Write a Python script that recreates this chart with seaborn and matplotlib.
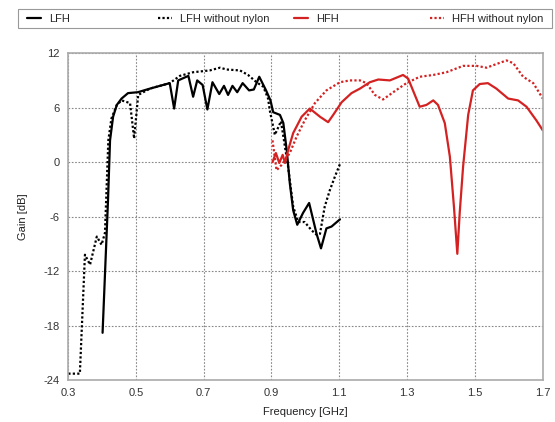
import numpy as np
import pandas as pd
import matplotlib
matplotlib.use('Agg')
import matplotlib.pyplot as plt
from matplotlib.patches import Rectangle
import seaborn as sns

# LFH (solid black)
lfh_f = [0.402, 0.418, 0.424, 0.433, 0.444, 0.458, 0.477, 0.506, 0.542, 0.571, 0.600,
         0.613, 0.625, 0.655, 0.669, 0.681, 0.697, 0.711, 0.726, 0.746, 0.760, 0.772,
         0.785, 0.799, 0.815, 0.834, 0.848, 0.864, 0.884, 0.897, 0.905, 0.925, 0.935,
         0.945, 0.954, 0.964, 0.976, 0.993, 1.011, 1.033, 1.046, 1.062, 1.077, 1.102]
lfh_g = [-18.8, -4.2, 2.4, 5.0, 6.3, 7.0, 7.6, 7.7, 8.1, 8.4, 8.7,
         5.9, 9.0, 9.5, 7.2, 9.0, 8.5, 5.8, 8.8, 7.5, 8.4, 7.4,
         8.4, 7.7, 8.7, 7.9, 8.0, 9.4, 7.9, 6.8, 5.5, 5.2, 4.3,
         1.3, -2.3, -5.3, -6.9, -5.6, -4.5, -7.9, -9.5, -7.3, -7.1, -6.3]

# LFH without nylon (dotted black)
lfhn_f = [0.301, 0.335, 0.350, 0.365, 0.385, 0.399, 0.409, 0.419, 0.428, 0.444, 0.458,
          0.483, 0.495, 0.507, 0.542, 0.571, 0.600, 0.630, 0.669, 0.718, 0.748, 0.768,
          0.807, 0.831, 0.856, 0.876, 0.890, 0.895, 0.910, 0.928, 0.949,
          0.964, 0.979, 0.998, 1.018, 1.033, 1.043, 1.057, 1.072, 1.087, 1.102]
lfhn_g = [-23.3, -23.3, -10.2, -11.3, -8.2, -9.1, -7.8, 2.4, 4.8, 6.3, 6.8,
          6.5, 2.6, 7.4, 8.1, 8.4, 8.7, 9.5, 9.9, 10.1, 10.4, 10.2,
          10.1, 9.6, 8.8, 8.3, 7.0, 5.7, 3.0, 4.5, -0.5,
          -4.9, -6.6, -6.6, -7.5, -8.0, -7.9, -4.9, -3.1, -1.6, -0.2]

# HFH (solid red)
hfh_f = [0.903, 0.913, 0.923, 0.933, 0.940, 0.949, 0.964, 0.989, 1.013, 1.043, 1.067,
         1.082, 1.107, 1.136, 1.161, 1.190, 1.215, 1.249, 1.288, 1.303, 1.337, 1.357,
         1.377, 1.391, 1.411, 1.426, 1.438, 1.448, 1.455, 1.465, 1.480, 1.494, 1.514,
         1.538, 1.563, 1.598, 1.627, 1.652, 1.681, 1.700]
hfh_g = [0.0, 1.0, -0.1, 0.8, -0.1, 1.3, 3.2, 5.0, 5.9, 5.0, 4.4,
         5.2, 6.6, 7.6, 8.1, 8.8, 9.1, 9.0, 9.6, 9.2, 6.1, 6.3,
         6.8, 6.3, 4.3, 0.6, -4.9, -10.1, -5.6, -0.5, 5.2, 7.9, 8.6,
         8.7, 8.1, 7.0, 6.8, 6.1, 4.6, 3.5]

# HFH without nylon (dotted red)
hfhn_f = [0.903, 0.915, 0.930, 0.954, 0.974, 0.998, 1.028, 1.062, 1.102, 1.131, 1.161,
          1.180, 1.205, 1.229, 1.259, 1.298, 1.337, 1.377, 1.416, 1.465, 1.505, 1.534,
          1.563, 1.593, 1.613, 1.642, 1.672, 1.700]
hfhn_g = [2.4, -0.9, -0.3, 1.0, 2.8, 4.6, 6.5, 7.9, 8.8, 9.0, 9.0,
          8.7, 7.4, 6.9, 7.7, 8.7, 9.4, 9.6, 9.9, 10.6, 10.6, 10.4,
          10.8, 11.2, 10.9, 9.4, 8.7, 7.0]

x_ticks = [0.3, 0.5, 0.7, 0.9, 1.1, 1.3, 1.5, 1.7]
y_ticks = [-24, -18, -12, -6, 0, 6, 12]

sns.set_style('white')
plt.rcParams['font.family'] = ['Liberation Sans', 'DejaVu Sans']
plt.rcParams['axes.unicode_minus'] = False

red = '#d42222'
dots = (0, (1, 1))
fig = plt.figure(figsize=(5.55, 4.22), dpi=100)
ax = fig.add_axes([0.1225, 0.0995, 0.8555, 0.7745])

sns.lineplot(x=lfh_f, y=lfh_g, ax=ax, color='black', lw=1.6, label='LFH', sort=False)
sns.lineplot(x=lfhn_f, y=lfhn_g, ax=ax, color='black', lw=1.6, ls=dots,
             label='LFH without nylon', sort=False)
sns.lineplot(x=hfh_f, y=hfh_g, ax=ax, color=red, lw=1.6, label='HFH', sort=False)
sns.lineplot(x=hfhn_f, y=hfhn_g, ax=ax, color=red, lw=1.6, ls=dots,
             label='HFH without nylon', sort=False)

ax.set_xlim(0.3, 1.7)
ax.set_ylim(-24, 12)
ax.set_xticks(x_ticks)
ax.set_xticklabels([f'{v:.1f}' for v in x_ticks])
ax.set_yticks(y_ticks)
ax.tick_params(labelsize=8, length=0, pad=6, colors='#333333')
ax.grid(True, color='#888888', ls=(0, (1.5, 1.5)), lw=0.8)
for s in ax.spines.values():
    s.set_color('#aaaaaa')
    s.set_linewidth(1.2)
ax.set_xlabel('Frequency [GHz]', fontsize=8, color='#222222', labelpad=6)
ax.set_ylabel('Gain [dB]', fontsize=8, color='#222222', labelpad=11)

# legend: one frame across the top, entries spaced evenly
handles, labels = ax.get_legend_handles_labels()
ax.get_legend().remove()
W, H = 555, 422
fig.patches.append(Rectangle((18 / W, 1 - 28 / H), 534 / W, 19 / H, transform=fig.transFigure,
                             fill=False, edgecolor='#999999', lw=0.8))
for h, lab, x0 in zip(handles, labels, [27, 158, 294, 430]):
    fig.legend([h], [lab], loc='center left', bbox_to_anchor=(x0 / W, 1 - 19 / H),
               fontsize=8, frameon=False, handlelength=1.3, handletextpad=0.7,
               borderpad=0, borderaxespad=0)

fig.savefig('out.png', dpi=100)
